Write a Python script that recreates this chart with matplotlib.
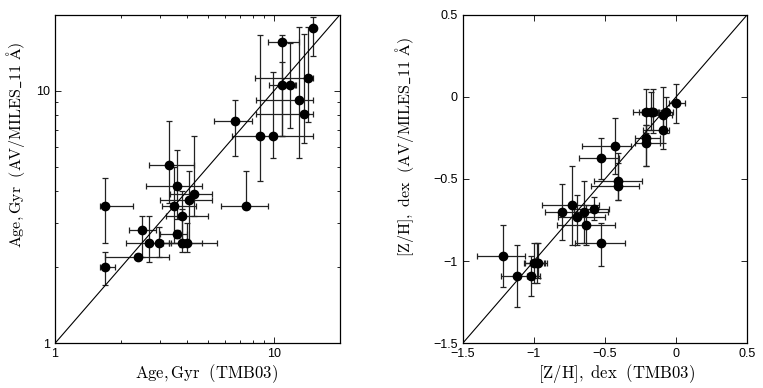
import matplotlib
matplotlib.use("Agg")
import matplotlib.pyplot as plt
import numpy as np
from matplotlib.ticker import FixedLocator, LogLocator, NullFormatter, FixedFormatter

plt.rcParams.update({
    "font.family": "Liberation Sans",
    "mathtext.fontset": "cm",
    "font.size": 9,
})

# --- left panel: ages (Gyr) ---
age_x = np.array([15.0, 10.9, 10.9, 11.8, 14.3, 13.0, 13.7, 8.6, 9.9, 6.6, 3.3, 1.69, 1.69,
                  2.39, 2.49, 2.69, 2.98, 3.6, 3.48, 4.09, 4.3, 3.8, 3.6, 3.8, 4.0, 7.45])
age_y = np.array([17.7, 15.6, 10.5, 10.5, 11.2, 9.2, 8.1, 6.6, 6.6, 7.6, 5.1, 3.5, 2.0,
                  2.2, 2.8, 2.5, 2.5, 4.2, 3.5, 3.7, 3.9, 3.2, 2.7, 2.5, 2.5, 3.5])
age_x_lo = np.array([14.6, 9.4, 9.5, 11.0, 8.2, 8.3, 8.3, 6.4, 9.9, 5.3, 2.7, 1.6, 1.6,
                     1.69, 2.18, 2.11, 2.6, 2.6, 3.07, 3.0, 3.35, 3.2, 3.0, 3.1, 3.3, 5.7])
age_x_hi = np.array([15.4, 13.0, 12.4, 12.6, 15.0, 15.0, 15.0, 15.0, 9.9, 7.9, 4.3, 2.28, 1.88,
                     3.3, 2.9, 3.3, 3.4, 4.7, 4.4, 5.2, 5.2, 5.0, 4.0, 5.5, 4.7, 9.4])
age_y_lo = np.array([13.7, 6.6, 6.6, 7.1, 7.5, 5.4, 6.2, 4.4, 5.4, 5.5, 3.6, 2.5, 1.7,
                     2.15, 2.2, 2.1, 2.2, 3.1, 2.5, 2.5, 3.2, 2.4, 2.6, 2.3, 2.3, 3.4])
age_y_hi = np.array([19.5, 16.6, 13.0, 15.4, 17.8, 17.8, 16.8, 16.6, 11.9, 9.2, 7.6, 4.5, 2.3,
                     2.25, 3.2, 3.2, 2.9, 5.8, 5.0, 4.8, 6.6, 4.0, 2.8, 3.4, 3.0, 4.8])

# --- right panel: [Z/H] (dex) ---
zh_x = np.array([0.0, -0.21, -0.18, -0.16, -0.07, -0.09, -0.09, -0.21, -0.21, -0.43, -0.53,
                 -0.41, -0.41, -0.73, -0.80, -0.70, -0.65, -0.58, -0.63, -0.53, -1.22, -1.12,
                 -1.02, -1.00, -0.98, -0.97])
zh_y = np.array([-0.04, -0.09, -0.09, -0.09, -0.09, -0.11, -0.20, -0.25, -0.28, -0.30, -0.37,
                 -0.51, -0.54, -0.66, -0.70, -0.73, -0.70, -0.68, -0.78, -0.89, -0.97, -1.09,
                 -1.09, -1.01, -1.01, -1.01])
zh_x_lo = np.array([-0.05, -0.30, -0.26, -0.24, -0.13, -0.16, -0.23, -0.29, -0.29, -0.66, -0.68,
                    -0.58, -0.60, -0.94, -0.92, -0.83, -0.72, -0.72, -0.84, -0.71, -1.40, -1.23,
                    -1.05, -1.07, -1.06, -1.03])
zh_x_hi = np.array([0.06, -0.14, -0.12, -0.10, -0.02, -0.03, -0.05, -0.11, -0.11, -0.32, -0.40,
                    -0.24, -0.26, -0.54, -0.48, -0.50, -0.58, -0.47, -0.43, -0.36, -1.06, -1.01,
                    -0.96, -0.93, -0.92, -0.91])
zh_y_lo = np.array([-0.16, -0.22, -0.20, -0.22, -0.22, -0.28, -0.32, -0.42, -0.42, -0.47, -0.50,
                    -0.63, -0.63, -0.90, -0.87, -0.90, -0.89, -0.75, -0.90, -1.03, -1.16, -1.28,
                    -1.21, -1.13, -1.13, -1.10])
zh_y_hi = np.array([0.08, 0.05, 0.03, 0.05, 0.0, 0.06, -0.08, -0.17, -0.17, -0.13, -0.25,
                    -0.34, -0.40, -0.42, -0.53, -0.60, -0.51, -0.61, -0.66, -0.77, -0.78, -0.90,
                    -0.97, -0.89, -0.89, -0.89])

fig = plt.figure(figsize=(7.63, 3.88), dpi=100)
ax1 = fig.add_axes([0.0721, 0.1152, 0.3735, 0.847])
ax2 = fig.add_axes([0.6064, 0.1152, 0.373, 0.847])

eb = dict(fmt="o", color="k", ecolor="#222222", ms=6, elinewidth=0.9,
          capsize=2.2, capthick=0.9)

# left
ax1.errorbar(age_x, age_y,
             xerr=[age_x - age_x_lo, age_x_hi - age_x],
             yerr=[age_y - age_y_lo, age_y_hi - age_y], **eb)
ax1.plot([1, 20], [1, 20], color="k", lw=0.8)
ax1.set_xscale("log")
ax1.set_yscale("log")
ax1.set_xlim(1, 20)
ax1.set_ylim(1, 20)
for axis in (ax1.xaxis, ax1.yaxis):
    axis.set_major_locator(FixedLocator([1, 10]))
    axis.set_major_formatter(FixedFormatter(["1", "10"]))
    axis.set_minor_locator(LogLocator(base=10, subs=np.arange(2, 10)))
    axis.set_minor_formatter(NullFormatter())
ax1.set_xlabel(r"$\mathrm{Age,Gyr\ \ (TMB03)}$", fontsize=12)
ax1.set_ylabel(r"$\mathrm{Age,Gyr\ \ (AV/MILES\_11\ \AA)}$", fontsize=11.5)
ax1.xaxis.set_label_coords(0.53, -0.058)
ax1.yaxis.set_label_coords(-0.098, 0.603)

# right
ax2.errorbar(zh_x, zh_y,
             xerr=[zh_x - zh_x_lo, zh_x_hi - zh_x],
             yerr=[zh_y - zh_y_lo, zh_y_hi - zh_y], **eb)
ax2.plot([-1.5, 0.5], [-1.5, 0.5], color="k", lw=0.8)
ax2.set_xlim(-1.5, 0.5)
ax2.set_ylim(-1.5, 0.5)
ticks = [-1.5, -1, -0.5, 0, 0.5]
ax2.set_xticks(ticks)
ax2.set_yticks(ticks)
ax2.set_xticklabels(["\u22121.5", "\u22121", "\u22120.5", "0", "0.5"])
ax2.set_yticklabels(["\u22121.5", "\u22121", "\u22120.5", "0", "0.5"])
ax2.set_xlabel(r"$\mathrm{[Z/H],\ dex\ \ (TMB03)}$", fontsize=12)
ax2.set_ylabel(r"$\mathrm{[Z/H],\ dex\ \ (AV/MILES\_11\ \AA)}$", fontsize=11.5)
ax2.xaxis.set_label_coords(0.54, -0.058)
ax2.yaxis.set_label_coords(-0.165, 0.596)

for ax in (ax1, ax2):
    ax.tick_params(which="both", direction="in", top=True, right=True, width=0.6)
    ax.tick_params(which="major", length=4, labelsize=9)
    ax.tick_params(which="minor", length=2.5)
    for s in ax.spines.values():
        s.set_linewidth(0.9)

fig.savefig("out.png", dpi=100)
